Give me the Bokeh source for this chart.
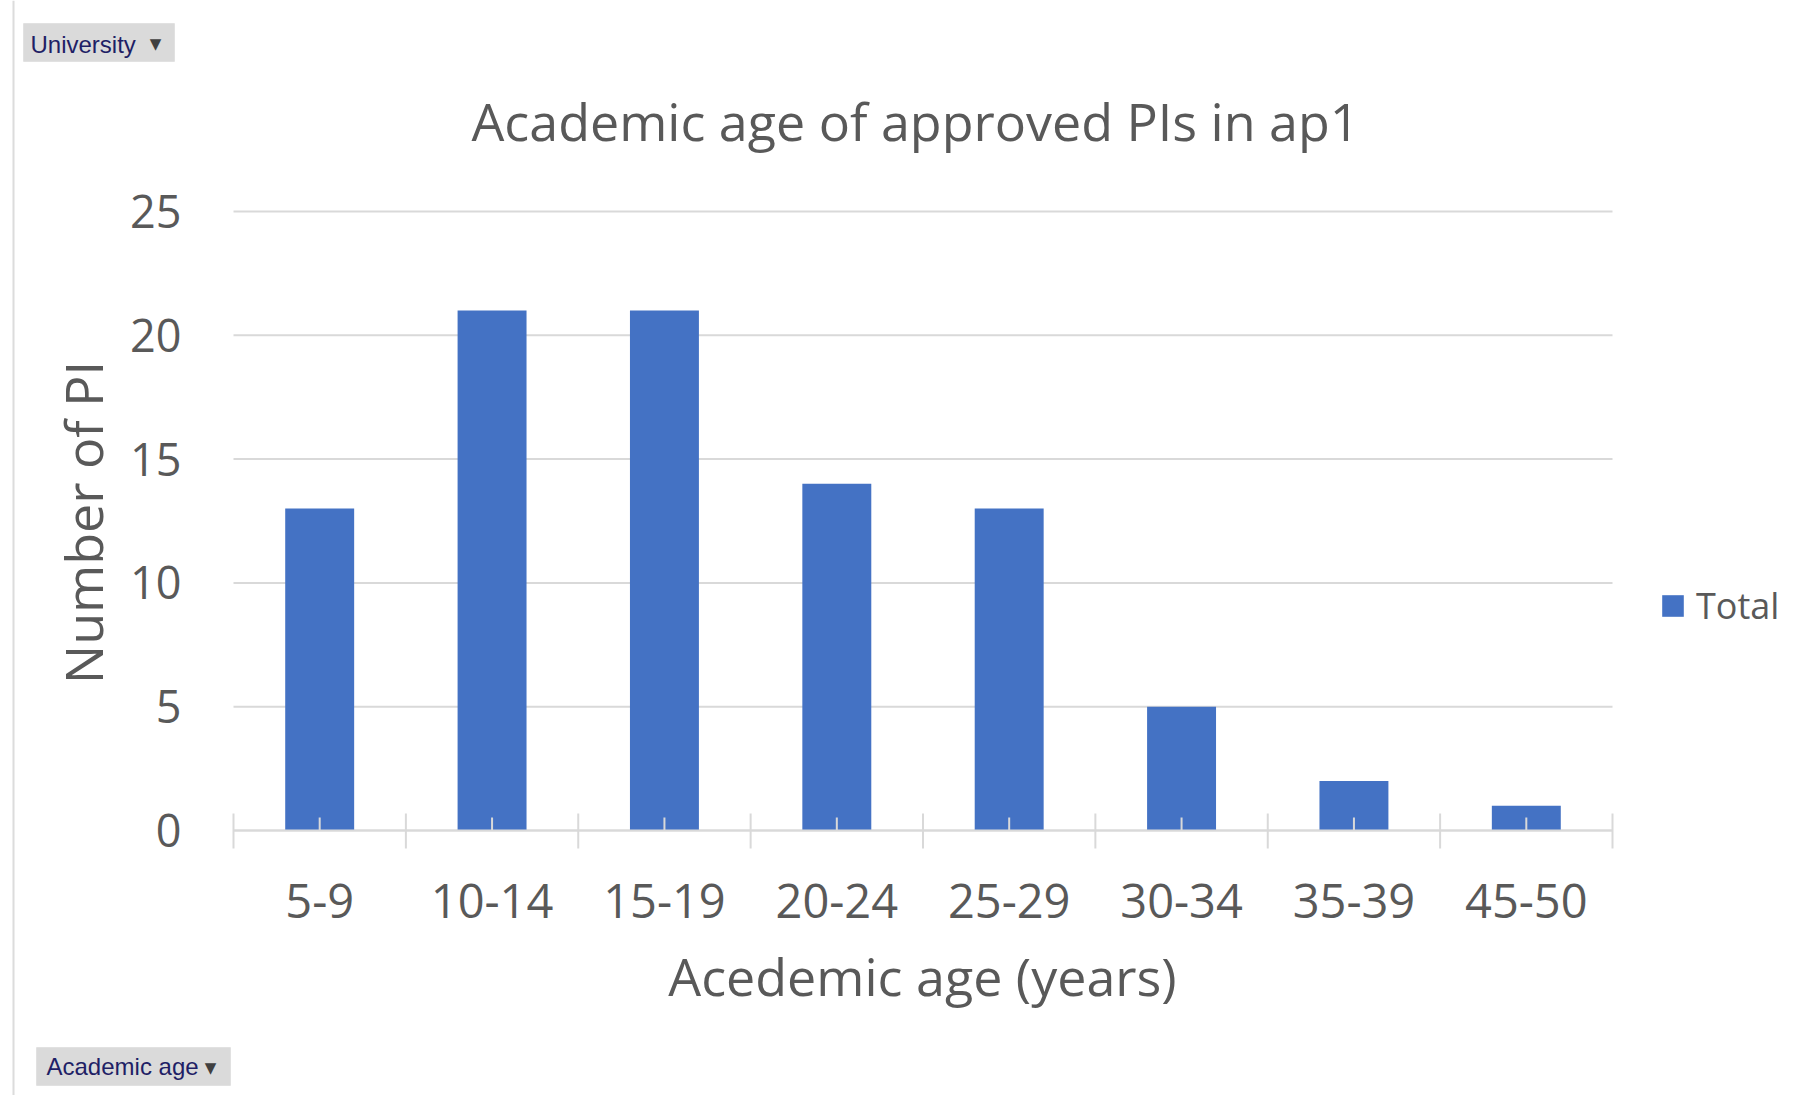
import math
from bokeh.plotting import figure
from bokeh.models import Range1d, Label, BoxAnnotation, ColumnDataSource
from bokeh.core.properties import value
from bokeh.embed import file_html
from bokeh.resources import INLINE

# ---- data ----
categories = ["5-9", "10-14", "15-19", "20-24", "25-29", "30-34", "35-39", "45-50"]
counts = [13, 21, 21, 14, 13, 5, 2, 1]
y_ticks = [0, 5, 10, 15, 20, 25]
series_name = "Total"
title_text = "Academic age of approved PIs in ap1"
x_title = "Acedemic age (years)"
y_title = "Number of PI"
filter_top = "University"
filter_bottom = "Academic age"

# ---- style / layout ----
FONT = "Open Sans"
TXT = "#595959"
GRID = "#d9d9d9"
BAR = "#4472C4"

W, H = 1790, 1095
PL, PR = 233, 1612      # plot area left / right (px)
PT, PB = 211, 830       # px of top tick value / of zero
n = len(categories)
ux = (PR - PL) / n
uy = (PB - PT) / (y_ticks[-1] - y_ticks[0])
xs0 = -PL / ux
xs1 = n + (W - PR) / ux
ys1 = y_ticks[-1] + PT / uy
ys0 = y_ticks[0] - (H - PB) / uy


def X(px):
    return xs0 + px / ux


def Y(py):
    return ys1 - py / uy


p = figure(width=W, height=H, x_range=Range1d(xs0, xs1), y_range=Range1d(ys0, ys1),
           x_axis_type=None, y_axis_type=None,
           output_backend="svg", toolbar_location=None, min_border=0)
p.min_border_left = p.min_border_right = p.min_border_top = p.min_border_bottom = 0
p.title.visible = False
p.outline_line_color = None
p.background_fill_color = "white"
p.border_fill_color = "white"

centers = [i + 0.5 for i in range(n)]
bounds = list(range(n + 1))

# horizontal gridlines (value axis)
p.segment(x0=[0] * len(y_ticks), x1=[n] * len(y_ticks), y0=y_ticks, y1=y_ticks,
          line_color=GRID, line_width=2)

# bars
src = ColumnDataSource(dict(x=centers, n=counts, cat=categories))
p.vbar(x="x", top="n", bottom=0, width=0.40, source=src,
       fill_color=BAR, line_color=None, legend_label=series_name)

# category axis line and Excel-style ticks
p.segment(x0=[0], x1=[n], y0=[0], y1=[0], line_color=GRID, line_width=2)
p.segment(x0=bounds, x1=bounds, y0=[-18 / uy] * len(bounds), y1=[17 / uy] * len(bounds),
          line_color=GRID, line_width=2)
p.segment(x0=centers, x1=centers, y0=[0] * n, y1=[13 / uy] * n,
          line_color=GRID, line_width=2)

# tick labels
p.text(x=[0] * len(y_ticks), y=y_ticks, text=[str(t) for t in y_ticks],
       x_offset=-52, text_align="right", text_baseline="middle",
       text_font=value(FONT), text_font_size="45px", text_color=TXT)
p.text(x=centers, y=[0] * n, text=categories, y_offset=70,
       text_align="center", text_baseline="middle",
       text_font=value(FONT), text_font_size="47px", text_color=TXT)

# axis titles and chart title
p.add_layout(Label(x=X(922), y=Y(975), text=x_title, text_align="center",
                   text_baseline="alphabetic", text_font=FONT, text_font_size="52px",
                   text_color=TXT))
p.add_layout(Label(x=X(82), y=Y(522), text=y_title, angle=math.pi / 2,
                   text_align="center", text_baseline="alphabetic",
                   text_font=FONT, text_font_size="52px", text_color=TXT))
p.add_layout(Label(x=X(915), y=Y(120), text=title_text, text_align="center",
                   text_baseline="alphabetic", text_font=FONT, text_font_size="52px",
                   text_color=TXT))

# legend
lg = p.legend[0]
lg.location = (1659, H - 630)
lg.glyph_width = 27
lg.glyph_height = 27
lg.label_standoff = 10
lg.label_text_font = FONT
lg.label_text_font_size = "36px"
lg.label_text_color = TXT
lg.label_text_baseline = "middle"
lg.padding = 0
lg.margin = 0
lg.spacing = 0
lg.border_line_color = None
lg.background_fill_alpha = 0

# worksheet edge line
p.add_layout(BoxAnnotation(left=X(12), right=X(14), fill_color="#dcdcdc", fill_alpha=1,
                           line_color=None))


# pivot filter buttons
def button(l, r, t, b, text, tx, ty, ax, ay):
    p.add_layout(BoxAnnotation(left=X(l), right=X(r), top=Y(t), bottom=Y(b),
                               fill_color="#dadada", fill_alpha=1,
                               line_color="#c8c8c8", line_width=1))
    p.add_layout(Label(x=X(tx), y=Y(ty), text=text, text_align="left",
                       text_baseline="alphabetic", text_font="Liberation Sans",
                       text_font_size="24px", text_color="#1f1f66"))
    p.add_layout(Label(x=X(ax), y=Y(ay), text="\u25BC", text_align="center",
                       text_baseline="middle", text_font="DejaVu Sans",
                       text_font_size="15px", text_color="#404040"))


button(23, 174, 23, 61, filter_top, 30, 44, 155, 43)
button(36, 230, 1047, 1085, filter_bottom, 46, 1066, 210, 1067)

open("out.html", "w").write(file_html(p, INLINE))
